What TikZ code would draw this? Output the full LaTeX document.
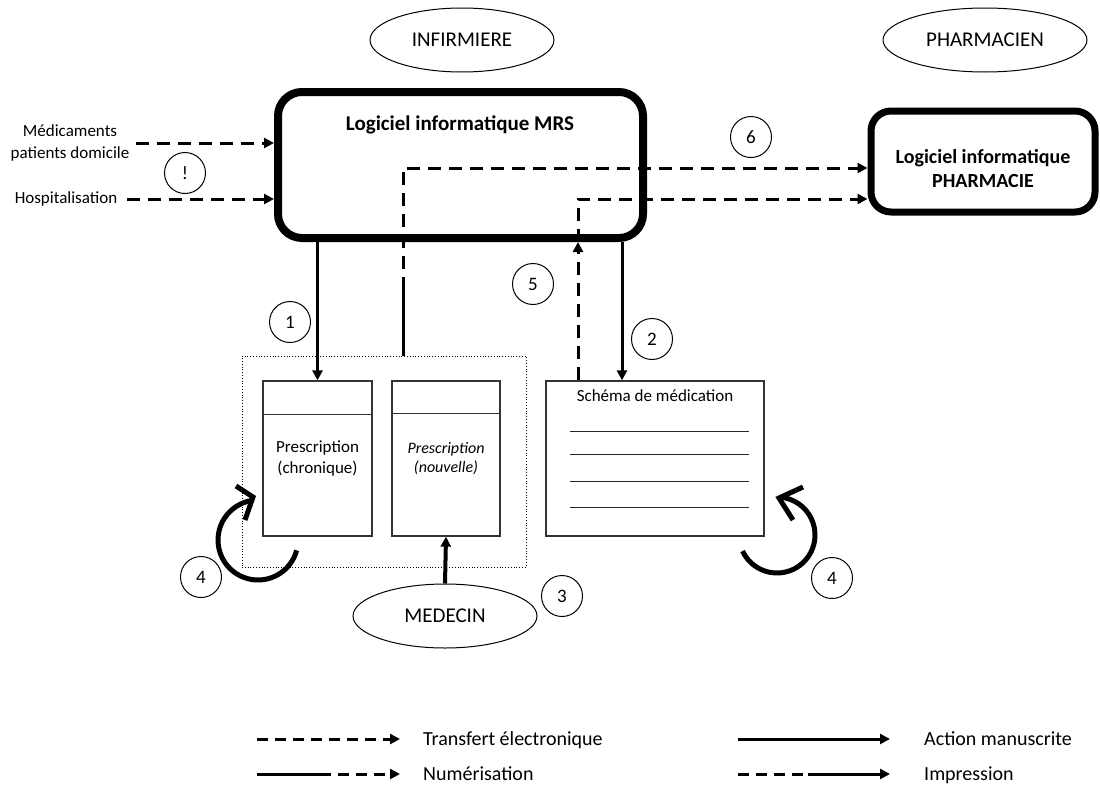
\documentclass[tikz,border=0pt]{standalone}
\usepackage{fontspec}
\setmainfont{Carlito}
\usetikzlibrary{arrows.meta,shapes.geometric}
\begin{document}
\begin{tikzpicture}[x=1pt,y=1pt,
  big/.style={font=\fontsize{20}{24}\selectfont},
  small/.style={font=\fontsize{17}{21}\selectfont},
  ell/.style={draw, ellipse, line width=1pt, minimum width=184pt, minimum height=64pt, font=\fontsize{21}{24}\selectfont},
  num/.style={draw, circle, line width=1pt, minimum size=41pt, inner sep=0pt, font=\fontsize{19}{22}\selectfont},
  soft/.style={draw, rounded corners=24pt, line width=8pt},
  doc/.style={draw=black!80, line width=1.3pt, inner sep=0pt},
  tip/.style={-{Triangle[length=10pt,width=10pt]}},
  elec/.style={line width=3pt, dash pattern=on 13pt off 8pt, tip},
  hand/.style={line width=3pt, tip},
  legdash/.style={line width=3pt, dash pattern=on 11pt off 7pt},
  loopy/.style={line width=5pt},
  barb/.style={line width=5pt, miter limit=4},
]
\fill[white] (0,0) rectangle (1100,-787);
\useasboundingbox (0,0) rectangle (1100,-787);

% actors
\node[ell] (inf) at (462,-40) {INFIRMIERE};
\node[ell, minimum width=204pt] (pha) at (985,-40) {PHARMACIEN};
\node[ell] (med) at (445,-616) {MEDECIN};

% software boxes
\node[soft, minimum width=365pt, minimum height=146pt] (mrs) at (460.5,-165) {};
\node[font=\bfseries\fontsize{21}{24}\selectfont] (mrst) at (460,-125) {Logiciel informatique MRS};
\node[soft, line width=7pt, rounded corners=20pt, minimum width=224pt, minimum height=101pt] (phb) at (983,-161.5) {};
\node[align=center, font=\bfseries\fontsize{20}{24}\selectfont] (pht) at (983,-169) {Logiciel informatique\\PHARMACIE};

% left inputs
\node[small, align=center, inner sep=0pt, font=\fontsize{17}{22}\selectfont] (meds) at (70,-143) {Médicaments\\patients domicile};
\node[small, inner sep=0pt] (hosp) at (66,-199) {Hospitalisation};
\draw[elec] ([xshift=6pt]meds.east) -- (meds.east -| mrs.west);
\draw[elec] ([xshift=10pt]hosp.east) -- (hosp.east -| mrs.west);

% numbered circles
\node[num] (nx) at (185,-173) {!};
\node[num] (n6) at (751,-137) {6};
\node[num] (n5) at (533,-284) {5};
\node[num] (n2) at (652,-339) {2};
\node[num] (n1) at (290,-322) {1};
\node[num] (n3) at (562,-596) {3};
\node[num] (n4a) at (201,-577) {4};
\node[num] (n4b) at (832,-578) {4};

% documents
\node[draw, dotted, line width=0.8pt, minimum width=284pt, minimum height=211pt] (grp) at (384,-461.5) {};
\node[doc, minimum width=109pt, minimum height=155pt, small, align=center] (chr) at (317.5,-458.5) {Prescription\\(chronique)};
\draw[black!80, line width=1.3pt] ([yshift=-34pt]chr.north west) -- ([yshift=-34pt]chr.north east);
\node[doc, minimum width=108pt, minimum height=155pt, align=center, font=\fontsize{16}{19}\selectfont\itshape] (nou) at (446,-458.5) {Prescription\\(nouvelle)};
\draw[black!80, line width=1.3pt] ([yshift=-33pt]nou.north west) -- ([yshift=-33pt]nou.north east);
\node[doc, minimum width=218pt, minimum height=155pt] (sch) at (655,-458.5) {};
\node[small] (scht) at (655,-396) {Schéma de médication};
\foreach \yy in {431,454,481,507} \draw[black!85, line width=1pt] (570,-\yy) -- (749,-\yy);

% connectors
\draw[hand] (mrs.south -| chr.north) -- (chr.north);
\coordinate (x2) at (622,0);
\draw[hand] (mrs.south -| x2) -- (sch.north -| x2);
\draw[hand, line width=4pt] (med.north) -- (nou.south);

\coordinate (a6) at (403,-290);
\coordinate (y6) at (0,-168);
\draw[line width=3pt] (grp.north -| a6) -- (a6);
\draw[elec] (a6) -- (a6 |- y6) -- (phb.west |- y6);

\coordinate (x5) at (578,0);
\coordinate (y5) at (0,-199);
\draw[elec] (sch.north -| x5) -- (mrs.south -| x5);
\draw[elec] (mrs.south -| x5) -- (x5 |- y5) -- (phb.west |- y5);

% loops (rotation arrows)
\draw[loopy] (258,-540) ++(-15:40) arc[start angle=-15, end angle=-262, radius=40];
\draw[barb] (236,-486) -- (253,-497) -- (245,-520);
\draw[loopy] (777,-535) ++(-155:38) arc[start angle=-155, end angle=84, radius=38];
\draw[barb] (803,-487) -- (779,-498) -- (793,-520);

% legend
\node[big, anchor=base west, inner sep=0pt] (l1) at (423,-745) {Transfert électronique};
\node[big, anchor=base west, inner sep=0pt] (l2) at (423,-780) {Numérisation};
\node[big, anchor=base west, inner sep=0pt] (l3) at (924,-745) {Action manuscrite};
\node[big, anchor=base west, inner sep=0pt] (l4) at (924,-780) {Impression};
\coordinate (s1) at (257,-739);
\draw[legdash, tip] (s1) -- ([xshift=-23pt]s1 -| l1.west);
\coordinate (s2) at (257,-774);
\coordinate (m2) at (320,-774);
\draw[line width=3pt] (s2) -- (m2);
\draw[legdash, tip] (m2) -- ([xshift=-23pt]m2 -| l2.west);
\coordinate (s3) at (738,-739);
\draw[hand] (s3) -- ([xshift=-34pt]s3 -| l3.west);
\coordinate (s4) at (738,-774);
\coordinate (m4) at (808,-774);
\draw[legdash] (s4) -- (m4);
\draw[hand] (m4) -- ([xshift=-34pt]m4 -| l4.west);
\end{tikzpicture}
\end{document}
